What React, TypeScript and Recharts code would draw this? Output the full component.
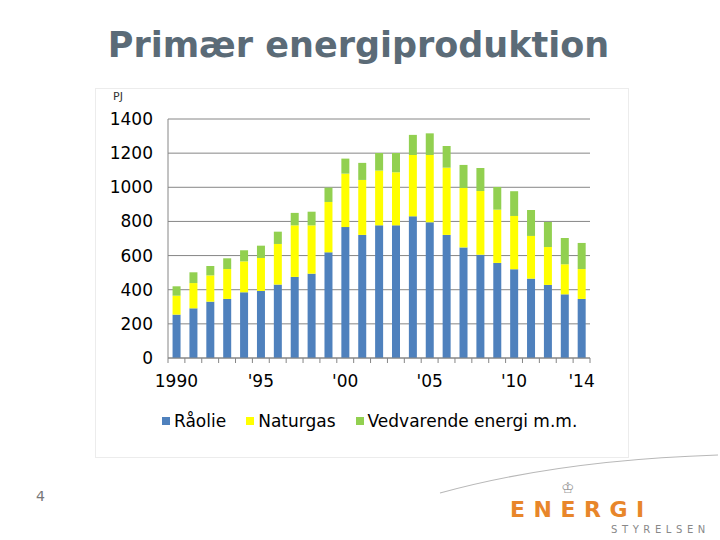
import React from 'react';
import { BarChart, Bar, XAxis, YAxis, CartesianGrid } from 'recharts';

const years = [
  1990, 1991, 1992, 1993, 1994, 1995, 1996, 1997, 1998, 1999, 2000, 2001, 2002,
  2003, 2004, 2005, 2006, 2007, 2008, 2009, 2010, 2011, 2012, 2013, 2014,
];
const yearLabels: Record<number, string> = {
  1990: '1990', 1995: "'95", 2000: "'00", 2005: "'05", 2010: "'10", 2014: "'14",
};
const raolie = [
  254, 291, 330, 346, 385, 393, 430, 475, 494, 619, 767, 721, 777, 777, 830, 795,
  721, 648, 605, 557, 520, 465, 428, 373, 346,
];
const naturgas = [
  111, 148, 154, 175, 181, 193, 238, 302, 283, 295, 313, 322, 321, 311, 359, 394,
  394, 348, 373, 312, 312, 250, 222, 176, 175,
];
const vedvarende = [
  55, 63, 55, 63, 65, 72, 72, 73, 80, 84, 88, 100, 103, 113, 118, 127, 127, 135,
  135, 133, 145, 152, 147, 154, 153,
];
const yTicks = [0, 200, 400, 600, 800, 1000, 1200, 1400];

const series = [
  { key: 'raolie', name: 'Råolie', color: '#4f81bd' },
  { key: 'naturgas', name: 'Naturgas', color: '#ffff00' },
  { key: 'vedvarende', name: 'Vedvarende energi m.m.', color: '#92d050' },
];

const data = years.map((year, i) => ({
  year,
  raolie: raolie[i],
  naturgas: naturgas[i],
  vedvarende: vedvarende[i],
}));

const FONT = '"DejaVu Sans", Verdana, sans-serif';
const PLOT_W = 422;
const BAND = PLOT_W / years.length;

// label only on some years, tick marks between every category
const YearTick = (props: any) => {
  const { x, y, payload, index } = props;
  const axisY = y - 8;
  const label = yearLabels[payload.value];
  return (
    <g>
      <line x1={x - BAND / 2} x2={x - BAND / 2} y1={axisY} y2={axisY + 5} stroke="#868686" />
      {index === years.length - 1 && (
        <line x1={x + BAND / 2} x2={x + BAND / 2} y1={axisY} y2={axisY + 5} stroke="#868686" />
      )}
      {label && (
        <text x={x} y={y} dy={21} textAnchor="middle" fill="#000" fontSize={17} fontFamily={FONT}>
          {label}
        </text>
      )}
    </g>
  );
};

export default function App() {
  return (
    <div
      style={{
        position: 'absolute',
        left: 0,
        top: 0,
        width: 720,
        height: 540,
        background: '#fff',
        fontFamily: FONT,
        overflow: 'hidden',
      }}
    >
      <div
        style={{
          position: 'absolute',
          left: 0,
          top: 25,
          width: 717,
          textAlign: 'center',
          fontSize: 35,
          fontWeight: 'bold',
          color: '#5b6b77',
          whiteSpace: 'nowrap',
        }}
      >
        Primær energiproduktion
      </div>

      <div
        style={{
          position: 'absolute',
          left: 95,
          top: 88,
          width: 532,
          height: 368,
          border: '1px solid #ececec',
        }}
      />
      <div style={{ position: 'absolute', left: 113, top: 90, fontSize: 11, color: '#333' }}>PJ</div>

      <div style={{ position: 'absolute', left: 0, top: 0 }}>
        <BarChart
          width={720}
          height={540}
          data={data}
          barCategoryGap="27%"
          margin={{ top: 119, right: 130, left: 108, bottom: 152 }}
        >
          <CartesianGrid vertical={false} stroke="#868686" />
          <XAxis
            dataKey="year"
            interval={0}
            height={30}
            tickLine={false}
            tickSize={6}
            tickMargin={2}
            tick={<YearTick />}
            axisLine={{ stroke: '#868686' }}
          />
          <YAxis
            width={60}
            domain={[0, 1400]}
            ticks={yTicks}
            tickLine={false}
            tickSize={0}
            tickMargin={15}
            axisLine={{ stroke: '#868686' }}
            tick={{ fill: '#000', fontSize: 17, fontFamily: FONT }}
          />
          {series.map((s) => (
            <Bar key={s.key} dataKey={s.key} name={s.name} stackId="a" fill={s.color} isAnimationActive={false} />
          ))}
        </BarChart>
      </div>

      <div
        style={{
          position: 'absolute',
          left: 162,
          top: 411,
          display: 'flex',
          alignItems: 'center',
          fontSize: 17,
          color: '#000',
          whiteSpace: 'nowrap',
        }}
      >
        {series.map((s) => (
          <div key={s.key} style={{ display: 'flex', alignItems: 'center', marginRight: 20 }}>
            <span style={{ width: 8, height: 8, background: s.color, display: 'inline-block', marginRight: 4 }} />
            {s.name}
          </div>
        ))}
      </div>

      <div style={{ position: 'absolute', left: 36, top: 488, fontSize: 14, color: '#777' }}>4</div>

      <svg style={{ position: 'absolute', left: 0, top: 0 }} width={720} height={540}>
        <path d="M440 493 Q560 460 718 455" fill="none" stroke="#b8b8b8" strokeWidth={1.2} />
        <text x={568} y={493} fontSize={15} fill="#9a9a9a" textAnchor="middle">♔</text>
        <text x={510} y={517} fontSize={22} fontWeight="bold" fill="#e8862a" letterSpacing={8.5}>
          ENERGI
        </text>
        <text x={611} y={533} fontSize={10} fill="#888" letterSpacing={4.6}>
          STYRELSEN
        </text>
      </svg>
    </div>
  );
}
